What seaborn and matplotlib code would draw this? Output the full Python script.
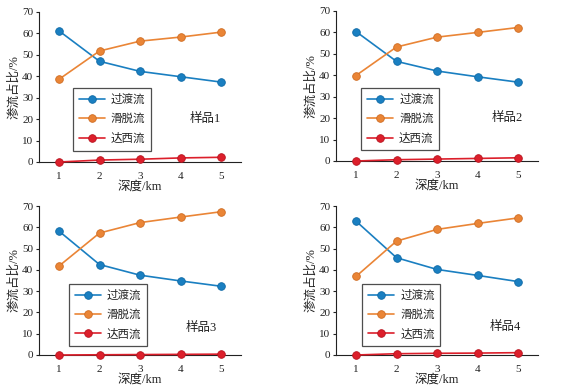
import matplotlib
matplotlib.use("Agg")
import matplotlib.pyplot as plt
import seaborn as sns
import pandas as pd

depth = [1, 2, 3, 4, 5]
series_names = ["过渡流", "滑脱流", "达西流"]
sample_labels = ["样品1", "样品2", "样品3", "样品4"]

s1_transition = [61.2, 47.0, 42.3, 39.8, 37.3]
s1_slip = [38.6, 51.8, 56.4, 58.3, 60.6]
s1_darcy = [0.0, 0.9, 1.3, 1.9, 2.2]

s2_transition = [60.4, 46.5, 42.0, 39.3, 36.8]
s2_slip = [39.9, 53.2, 57.8, 60.0, 62.3]
s2_darcy = [0.0, 0.6, 0.9, 1.2, 1.5]

s3_transition = [58.2, 42.5, 37.5, 34.8, 32.3]
s3_slip = [41.8, 57.3, 62.2, 64.8, 67.3]
s3_darcy = [0.0, 0.1, 0.2, 0.3, 0.4]

s4_transition = [62.9, 45.7, 40.2, 37.4, 34.5]
s4_slip = [36.9, 53.5, 59.0, 61.8, 64.4]
s4_darcy = [0.0, 0.6, 0.8, 0.9, 1.1]

samples = [
    (s1_transition, s1_slip, s1_darcy),
    (s2_transition, s2_slip, s2_darcy),
    (s3_transition, s3_slip, s3_darcy),
    (s4_transition, s4_slip, s4_darcy),
]

colors = ["#1a7fc1", "#ea8536", "#dc1f2b"]
edge_colors = ["#0f6aa6", "#cf6c22", "#b8141f"]

sns.set_style("ticks")
plt.rcParams["font.family"] = ["Liberation Serif", "Noto Sans CJK SC"]

W, H = 562, 392
fig = plt.figure(figsize=(W / 100, H / 100), dpi=100)

aw = 202.5
# (left px, bottom px (y=0), height px)
geom = [(38.75, 162, 150), (335.75, 161, 150), (38.75, 355, 149), (335.75, 355, 149)]
legend_pos = [(0.169, 0.493), (0.125, 0.487), (0.149, 0.478), (0.13, 0.478)]
label_pos = [(0.747, 0.287), (0.772, 0.287), (0.727, 0.183), (0.762, 0.188)]

for i, (vals, (lx, by, h)) in enumerate(zip(samples, geom)):
    ax = fig.add_axes([lx / W, 1 - by / H, aw / W, h / H])
    for name, v, c, ec in zip(series_names, vals, colors, edge_colors):
        df = pd.DataFrame({"depth": depth, "value": v})
        sns.lineplot(data=df, x="depth", y="value", ax=ax, color=c, lw=1.2,
                     marker="o", markersize=5.5, markeredgecolor=ec,
                     markeredgewidth=0.6, label=name, clip_on=False, zorder=3)
    ax.set_xlim(0.5, 5.5)
    ax.set_ylim(0, 70)
    ax.set_xticks(depth)
    ax.set_yticks(range(0, 71, 10))
    sns.despine(ax=ax)
    for sp in ["left", "bottom"]:
        ax.spines[sp].set_linewidth(0.8)
        ax.spines[sp].set_color("#222222")
    ax.tick_params(axis="y", direction="out", length=2, width=0.8,
                   labelsize=8, pad=2, colors="#222222")
    ax.tick_params(axis="x", direction="in", length=0, labelsize=8, pad=7,
                   colors="#222222")
    ax.set_xlabel("深度/km", fontsize=9, labelpad=0, color="#222222")
    ax.set_ylabel("渗流占比/%", fontsize=9, labelpad=1, color="#222222")
    leg = ax.legend(loc="upper left", bbox_to_anchor=legend_pos[i],
                    fontsize=8.3, frameon=True, fancybox=False,
                    handlelength=2.3, borderpad=0.5, labelspacing=0.65,
                    handletextpad=0.5, borderaxespad=0)
    leg.get_frame().set_edgecolor("#222222")
    leg.get_frame().set_linewidth(0.9)
    ax.text(label_pos[i][0], label_pos[i][1], sample_labels[i],
            transform=ax.transAxes, fontsize=9, va="center", ha="left",
            color="#222222")

fig.savefig("out.png", dpi=100)
